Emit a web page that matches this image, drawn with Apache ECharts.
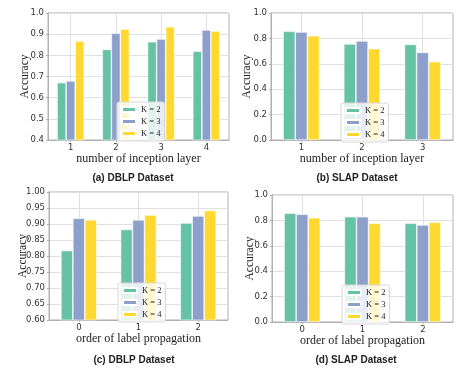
<!DOCTYPE html>
<html><head><meta charset="utf-8">
<script src="https://cdn.jsdelivr.net/npm/echarts@6/dist/echarts.min.js"></script>
<style>html,body{margin:0;padding:0;background:#fff}#c{width:475px;height:371px}</style>
</head><body><div id="c"></div>
<script>
const seriesNames = ['K = 2', 'K = 3', 'K = 4'];
const colors = ['#66c2a5', '#8da0cb', '#ffd92f'];

const catsA = ['1', '2', '3', '4'];
const aK2 = [0.671, 0.828, 0.864, 0.820];
const aK3 = [0.679, 0.904, 0.877, 0.920];
const aK4 = [0.868, 0.924, 0.935, 0.915];

const catsB = ['1', '2', '3'];
const bK2 = [0.856, 0.756, 0.753];
const bK3 = [0.850, 0.780, 0.690];
const bK4 = [0.821, 0.719, 0.617];

const catsC = ['0', '1', '2'];
const cK2 = [0.817, 0.883, 0.903];
const cK3 = [0.918, 0.913, 0.925];
const cK4 = [0.913, 0.928, 0.942];

const catsD = ['0', '1', '2'];
const dK2 = [0.856, 0.829, 0.777];
const dK3 = [0.848, 0.829, 0.764];
const dK4 = [0.821, 0.777, 0.785];

const panelTitles = ['(a) DBLP Dataset', '(b) SLAP Dataset', '(c) DBLP Dataset', '(d) SLAP Dataset'];
const xNames = ['number of inception layer', 'number of inception layer', 'order of label propagation', 'order of label propagation'];
const yMins = [0.4, 0, 0.6, 0];
const yIntervals = [0.1, 0.2, 0.05, 0.2];
const yDecimals = [1, 1, 2, 1];

const panels = [
  {cats: catsA, vals: [aK2, aK3, aK4]},
  {cats: catsB, vals: [bK2, bK3, bK4]},
  {cats: catsC, vals: [cK2, cK3, cK4]},
  {cats: catsD, vals: [dK2, dK3, dK4]}
];

const grids = [
  {left: 48, top: 13, width: 181, height: 127},
  {left: 271, top: 13, width: 182, height: 127},
  {left: 49, top: 192, width: 179, height: 128},
  {left: 272, top: 195, width: 181, height: 127}
];
const yNameGaps = [17, 18, 20, 16];
const legendPos = [
  {left: 117, top: 102},
  {left: 341, top: 103},
  {left: 118, top: 283},
  {left: 342, top: 285}
];
const titlePos = [[133, 178], [357, 178], [134, 360], [356, 360]];

const frame = '#b0b0b0';
const gridLine = '#e0e0e0';

const option = {
  animation: false,
  grid: grids.map(g => Object.assign({show: true, borderColor: frame, borderWidth: 1, backgroundColor: 'transparent'}, g)),
  xAxis: panels.map((p, i) => ({
    type: 'category', gridIndex: i, data: p.cats,
    name: xNames[i], nameLocation: 'middle', nameGap: 13,
    nameTextStyle: {fontFamily: 'Liberation Serif', fontSize: 12, color: '#222'},
    axisLine: {lineStyle: {color: frame}},
    axisTick: {show: true, alignWithLabel: true, length: 2, lineStyle: {color: frame}},
    axisLabel: {margin: 3, fontFamily: 'DejaVu Sans', fontSize: 8.5, color: '#333'},
    splitLine: {show: true, alignWithLabel: true, lineStyle: {color: gridLine, width: 1}}
  })),
  yAxis: panels.map((p, i) => ({
    type: 'value', gridIndex: i, min: yMins[i], max: 1.0, interval: yIntervals[i],
    name: 'Accuracy', nameLocation: 'middle', nameGap: yNameGaps[i], nameMoveOverlap: false,
    nameTextStyle: {fontFamily: 'Liberation Serif', fontSize: 11.5, color: '#222'},
    axisLine: {show: true, lineStyle: {color: frame}},
    axisTick: {show: true, length: 2, lineStyle: {color: frame}},
    axisLabel: {margin: 4, fontFamily: 'DejaVu Sans', fontSize: 8.5, color: '#333',
      formatter: v => v.toFixed(yDecimals[i])},
    splitLine: {show: true, lineStyle: {color: gridLine, width: 1}}
  })),
  legend: legendPos.map((lp, i) => ({
    orient: 'vertical', left: lp.left, top: lp.top,
    data: seriesNames,
    itemWidth: 14, itemHeight: 5, itemGap: 3,
    padding: [3, 4, 3, 4],
    backgroundColor: 'rgba(255,255,255,0.8)', borderColor: '#d8d8d8', borderWidth: 1, borderRadius: 2,
    icon: 'rect', selectedMode: false,
    textStyle: {fontFamily: 'Liberation Serif', fontSize: 8.5, color: '#222', lineHeight: 8},
    z: 10
  })),
  series: [],
  graphic: panelTitles.map((t, i) => ({
    type: 'text', x: titlePos[i][0], y: titlePos[i][1],
    style: {text: t, align: 'center', verticalAlign: 'middle',
      font: 'bold 10px "Liberation Sans"', fill: '#222'}
  }))
};

panels.forEach((p, i) => {
  p.vals.forEach((vals, k) => {
    option.series.push({
      type: 'bar', name: seriesNames[k], xAxisIndex: i, yAxisIndex: i,
      data: vals, barGap: '0%', barCategoryGap: '40%',
      itemStyle: {color: colors[k], borderColor: '#fff', borderWidth: 0.6},
      clip: true
    });
  });
});

const chart = echarts.init(document.getElementById('c'), null, {renderer: 'canvas'});
chart.setOption(option);
</script></body></html>
